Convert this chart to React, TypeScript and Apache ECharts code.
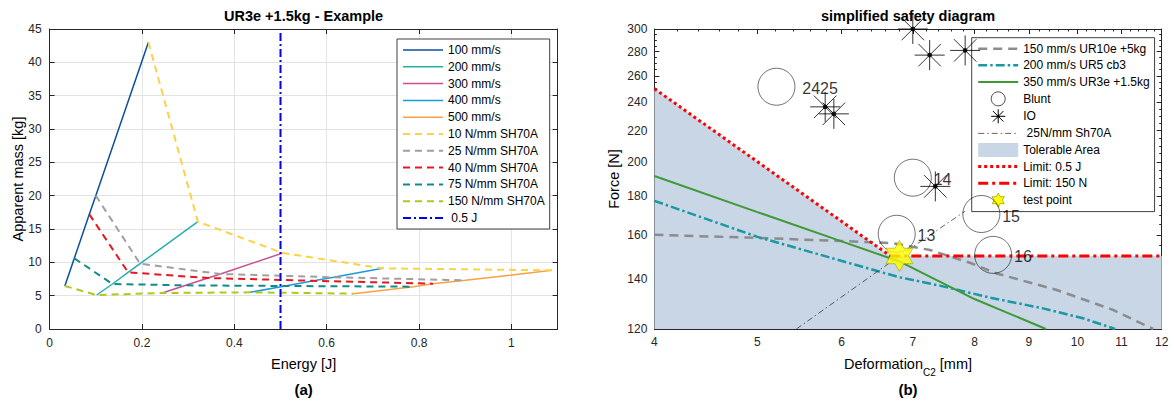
import React, { useEffect, useRef } from "react";
import * as echarts from "echarts";

const FONT = "'Liberation Sans', Arial, Helvetica, sans-serif";
const AXIS_COLOR = "#262626";
const GRID_COLOR = "#e3e3e3";
const AREA_COLOR = "#c8d6e6";

// ---------------- panel (a): apparent mass vs energy ----------------
// each speed array is ordered by stiffness: 150, 75, 40, 25, 10 N/mm
const speedNames = ["100 mm/s", "200 mm/s", "300 mm/s", "400 mm/s", "500 mm/s"];
const speedColors = ["#0b4f9e", "#25b0ad", "#c64f98", "#1b9ad8", "#f6a244"];
const stiffnessNames = ["150 N/mm SH70A", "75 N/mm SH70A", "40 N/mm SH70A", "25 N/mm SH70A", "10 N/mm SH70A"];
const stiffnessColors = ["#b3c71b", "#0e8c8c", "#e5171f", "#a0a0a0", "#fdd244"];
const energy100 = [0.033, 0.0535, 0.086, 0.1, 0.214];
const mass100 = [6.45, 10.6, 17.2, 20.0, 43.0];
const energy200 = [0.102, 0.136, 0.17, 0.196, 0.321];
const mass200 = [5.1, 6.75, 8.5, 9.8, 16.1];
const energy300 = [0.244, 0.295, 0.343, 0.37, 0.505];
const mass300 = [5.4, 6.55, 7.65, 8.25, 11.4];
const energy400 = [0.434, 0.51, 0.572, 0.615, 0.721];
const mass400 = [5.5, 6.45, 7.23, 7.76, 9.1];
const energy500 = [0.658, 0.788, 0.83, 0.9, 1.088];
const mass500 = [5.3, 6.35, 6.8, 7.3, 8.8];
const limitEnergy = 0.5;
const massRange = [0, 45];
const energyRange = [0, 1.1];

// ---------------- panel (b): simplified safety diagram ----------------
const ur10eDeform = [4, 5, 6, 6.7, 7.27, 7.92, 8.39, 9.56, 10.8, 11.78];
const ur10eForce = [160, 158.5, 157, 156, 152.7, 146.9, 142.2, 135.2, 127.2, 120];
const ur5Deform = [4, 5, 6.52, 6.81, 7.42, 8.27, 9.28, 10.12, 10.85];
const ur5Force = [177.5, 159, 142.9, 140.5, 137, 132.1, 127.8, 124, 120];
const ur3eDeform = [4, 5, 6, 6.8, 8, 9.34];
const ur3eForce = [191.5, 171.5, 156.8, 147.5, 131.5, 120];
const sh70aDeform = [5.44, 6.8, 7.84];
const sh70aForce = [120, 150, 172];
const bluntDeform = [5.21, 7.0, 6.76, 8.12, 8.33];
const bluntForce = [251.5, 190.5, 160.5, 170.5, 150.5];
const bluntLabels = ["2425", "14", "13", "15", "16"];
const ioDeform = [7.0, 7.26, 7.84, 5.79, 5.9, 7.35];
const ioForce = [300, 277, 281, 236.5, 231.5, 185.5];
const limitEnergyDeform = [4, 6.667];
const limitEnergyForce = [250, 150];
const limitForceDeform = [6.667, 12];
const limitForceForce = [150, 150];
const tolerableDeform = [4, 6.667, 12];
const tolerableForce = [250, 150, 150];
const testPointDeform = [6.8];
const testPointForce = [150];
const deformRange = [4, 12];
const forceRange = [120, 300];
const deformTicks = [4, 5, 6, 7, 8, 9, 10, 11, 12];
const forceTicks = [120, 140, 160, 180, 200, 220, 240, 260, 280, 300];

const deformMinorTicks: number[] = [];
for (let v = 40; v <= 120; v += 2) deformMinorTicks.push(v / 10);
const forceMinorTicks: number[] = [];
for (let v = 120; v <= 300; v += 5) forceMinorTicks.push(v);

const ASTERISK =
  "path://M0,-1L0,1M-1,0L1,0M-0.75,-0.75L0.75,0.75M-0.75,0.75L0.75,-0.75M0.13,0A0.13,0.13,0,1,1,-0.13,0A0.13,0.13,0,1,1,0.13,0Z";
const HEXAGRAM =
  "path://M0,-1L0.289,-0.5L0.866,-0.5L0.577,0L0.866,0.5L0.289,0.5L0,1L-0.289,0.5L-0.866,0.5L-0.577,0L-0.866,-0.5L-0.289,-0.5Z";

const zip = (xs: number[], ys: number[]) => xs.map((x, i) => [x, ys[i]]);

function buildOption() {
  const tickLabel = { color: AXIS_COLOR, fontSize: 12, fontFamily: FONT };

  const xAxes: any[] = [
    {
      gridIndex: 0, type: "value", position: "bottom", min: energyRange[0], max: energyRange[1], interval: 0.2,
      axisLine: { show: true, onZero: false, lineStyle: { color: AXIS_COLOR, width: 1 } },
      axisTick: { show: true, inside: true, length: 5, lineStyle: { color: AXIS_COLOR } },
      axisLabel: { show: true, showMaxLabel: false, margin: 8, ...tickLabel },
      splitLine: { show: true, lineStyle: { color: GRID_COLOR, width: 1 } },
    },
    {
      gridIndex: 0, type: "value", position: "top", min: energyRange[0], max: energyRange[1], interval: 0.2,
      axisLine: { show: true, onZero: false, lineStyle: { color: AXIS_COLOR, width: 1 } },
      axisTick: { show: true, inside: true, length: 5, lineStyle: { color: AXIS_COLOR } },
      axisLabel: { show: false },
      splitLine: { show: false },
    },
  ];
  const yAxes: any[] = [
    {
      gridIndex: 0, type: "value", position: "left", min: massRange[0], max: massRange[1], interval: 5,
      axisLine: { show: true, onZero: false, lineStyle: { color: AXIS_COLOR, width: 1 } },
      axisTick: { show: true, inside: true, length: 5, lineStyle: { color: AXIS_COLOR } },
      axisLabel: { show: true, margin: 8, ...tickLabel },
      splitLine: { show: true, lineStyle: { color: GRID_COLOR, width: 1 } },
    },
    {
      gridIndex: 0, type: "value", position: "right", min: massRange[0], max: massRange[1], interval: 5,
      axisLine: { show: true, onZero: false, lineStyle: { color: AXIS_COLOR, width: 1 } },
      axisTick: { show: true, inside: true, length: 5, lineStyle: { color: AXIS_COLOR } },
      axisLabel: { show: false },
      splitLine: { show: false },
    },
  ];

  const logAxis = (position: string, range: number[], ticks: number[], minor: boolean, labels: boolean) => ({
    gridIndex: 1, type: "log", logBase: 10, position, min: range[0], max: range[1],
    axisLine: { show: !minor, onZero: false, lineStyle: { color: AXIS_COLOR, width: 1 } },
    axisTick: { show: true, inside: true, length: minor ? 2.5 : 5, lineStyle: { color: AXIS_COLOR, width: 1 }, customValues: ticks },
    axisLabel: labels
      ? { show: true, customValues: ticks, margin: 7, ...tickLabel, formatter: (v: number) => String(Math.round(v)) }
      : { show: false },
    splitLine: { show: false },
    minorTick: { show: false },
    minorSplitLine: { show: false },
  });
  xAxes.push(logAxis("bottom", deformRange, deformTicks, false, true));
  xAxes.push(logAxis("bottom", deformRange, deformMinorTicks, true, false));
  xAxes.push(logAxis("top", deformRange, deformTicks, false, false));
  xAxes.push(logAxis("top", deformRange, deformMinorTicks, true, false));
  yAxes.push(logAxis("left", forceRange, forceTicks, false, true));
  yAxes.push(logAxis("left", forceRange, forceMinorTicks, true, false));
  yAxes.push(logAxis("right", forceRange, forceTicks, false, false));
  yAxes.push(logAxis("right", forceRange, forceMinorTicks, true, false));

  const speedEnergy = [energy100, energy200, energy300, energy400, energy500];
  const speedMass = [mass100, mass200, mass300, mass400, mass500];

  const series: any[] = [];
  speedNames.forEach((name, i) => {
    series.push({
      type: "line", name, xAxisIndex: 0, yAxisIndex: 0, symbol: "none", z: 3,
      data: zip(speedEnergy[i], speedMass[i]),
      lineStyle: { color: speedColors[i], width: 1.5 },
      itemStyle: { color: speedColors[i] },
    });
  });
  stiffnessNames.forEach((name, j) => {
    series.push({
      type: "line", name, xAxisIndex: 0, yAxisIndex: 0, symbol: "none", z: 3,
      data: speedEnergy.map((arr, i) => [arr[j], speedMass[i][j]]),
      lineStyle: { color: stiffnessColors[j], width: 2, type: [7, 5] },
      itemStyle: { color: stiffnessColors[j] },
    });
  });
  series.push({
    type: "line", name: " 0.5 J", xAxisIndex: 0, yAxisIndex: 0, symbol: "none", z: 4,
    data: [[limitEnergy, massRange[0]], [limitEnergy, massRange[1]]],
    lineStyle: { color: "#0000ff", width: 2, type: [8, 3, 2, 3] },
    itemStyle: { color: "#0000ff" },
  });

  const rb = { xAxisIndex: 2, yAxisIndex: 2 };
  series.push({
    type: "line", name: "Tolerable Area", ...rb, symbol: "none", z: 1,
    data: zip(tolerableDeform, tolerableForce),
    lineStyle: { width: 0, color: AREA_COLOR },
    itemStyle: { color: AREA_COLOR },
    areaStyle: { color: AREA_COLOR, opacity: 1, origin: "start" },
  });
  series.push({
    type: "line", name: "150 mm/s UR10e +5kg", ...rb, symbol: "none", z: 3,
    data: zip(ur10eDeform, ur10eForce),
    lineStyle: { color: "#8a8c8f", width: 2.5, type: [9, 6] },
    itemStyle: { color: "#8a8c8f" },
  });
  series.push({
    type: "line", name: "200 mm/s UR5 cb3", ...rb, symbol: "none", z: 3,
    data: zip(ur5Deform, ur5Force),
    lineStyle: { color: "#1c97a3", width: 2.5, type: [9, 3, 2.5, 3] },
    itemStyle: { color: "#1c97a3" },
  });
  series.push({
    type: "line", name: "350 mm/s UR3e +1.5kg", ...rb, symbol: "none", z: 3,
    data: zip(ur3eDeform, ur3eForce),
    lineStyle: { color: "#3f9a35", width: 2 },
    itemStyle: { color: "#3f9a35" },
  });
  series.push({
    type: "line", name: " 25N/mm Sh70A", ...rb, symbol: "none", z: 3,
    data: zip(sh70aDeform, sh70aForce),
    lineStyle: { color: "#222", width: 0.7, type: [6, 3, 1.5, 3] },
    itemStyle: { color: "#222" },
  });
  series.push({
    type: "line", name: "Limit: 0.5 J", ...rb, symbol: "none", z: 4,
    data: zip(limitEnergyDeform, limitEnergyForce),
    lineStyle: { color: "#ff0000", width: 3, type: [3, 3] },
    itemStyle: { color: "#ff0000" },
  });
  series.push({
    type: "line", name: "Limit: 150 N", ...rb, symbol: "none", z: 4,
    data: zip(limitForceDeform, limitForceForce),
    lineStyle: { color: "#ff0000", width: 3, type: [10, 4, 3, 4] },
    itemStyle: { color: "#ff0000" },
  });
  series.push({
    type: "scatter", name: "Blunt", ...rb, z: 5, clip: false,
    symbol: "circle", symbolSize: 37,
    itemStyle: { color: "rgba(0,0,0,0)", borderColor: "#000", borderWidth: 0.7 },
    label: { show: true, position: "right", distance: 2, offset: [0, 2], formatter: "{b}", fontSize: 16, color: "#000", fontFamily: FONT },
    data: bluntDeform.map((d, i) => ({
      name: bluntLabels[i],
      value: [d, bluntForce[i]],
      ...(i === 0 ? { label: { distance: 7 } } : {}),
    })),
  });
  series.push({
    type: "scatter", name: "IO", ...rb, z: 5, clip: false,
    symbol: ASTERISK, symbolSize: 30,
    itemStyle: { color: "#000", borderColor: "#000", borderWidth: 1 },
    data: zip(ioDeform, ioForce),
  });
  series.push({
    type: "scatter", name: "test point", ...rb, z: 6, clip: false,
    symbol: HEXAGRAM, symbolSize: [27, 31],
    itemStyle: { color: "#ffff00", borderColor: "#a3a300", borderWidth: 0.8 },
    data: zip(testPointDeform, testPointForce),
  });

  const legendCommon = {
    orient: "vertical",
    selectedMode: false,
    backgroundColor: "#fff",
    borderColor: "#404040",
    borderWidth: 1,
    borderRadius: 0,
    padding: [4, 5, 4, 5],
    itemWidth: 40,
    itemHeight: 14,
    lineStyle: { width: "inherit" },
    // hides the marker ECharts adds in the middle of line-series legend icons
    itemStyle: { borderWidth: "inherit", opacity: 0 },
    textStyle: { fontSize: 12, lineHeight: 14, color: "#000", fontFamily: FONT },
  };
  const shown = { itemStyle: { opacity: 1 } };

  const txt = (text: string, x: number, y: number, size: number, bold = false, rotation = 0, align = "center") => ({
    type: "text", x, y, rotation, z: 100,
    style: {
      text, fill: "#000", fontSize: size, fontFamily: FONT, fontWeight: bold ? "bold" : "normal",
      align, textAlign: align, verticalAlign: "middle", textVerticalAlign: "middle",
    },
  });

  return {
    animation: false,
    backgroundColor: "#fff",
    textStyle: { fontFamily: FONT },
    grid: [
      { left: 49.6, top: 29, width: 508, height: 300, containLabel: false, outerBoundsMode: "none" },
      { left: 654.4, top: 29, width: 507.3, height: 300, containLabel: false, outerBoundsMode: "none" },
    ],
    xAxis: xAxes,
    yAxis: yAxes,
    legend: [
      {
        ...legendCommon,
        left: 397, top: 39, itemGap: 2.8,
        data: [
          ...speedNames,
          "10 N/mm SH70A", "25 N/mm SH70A", "40 N/mm SH70A", "75 N/mm SH70A", "150 N/mm SH70A",
          " 0.5 J",
        ],
      },
      {
        ...legendCommon,
        left: 971.7, top: 37.7, itemGap: 2.6,
        data: [
          "150 mm/s UR10e +5kg",
          "200 mm/s UR5 cb3",
          "350 mm/s UR3e +1.5kg",
          { name: "Blunt", ...shown },
          { name: "IO", itemStyle: { opacity: 1 } },
          " 25N/mm Sh70A",
          { name: "Tolerable Area", icon: "rect", itemStyle: { color: AREA_COLOR, borderWidth: 0, opacity: 1 } },
          "Limit: 0.5 J",
          "Limit: 150 N",
          { name: "test point", itemStyle: { opacity: 1 } },
        ],
      },
    ],
    series,
    graphic: [
      txt("UR3e +1.5kg - Example", 303.6, 15.7, 14.5, true),
      txt("simplified safety diagram", 908, 15.7, 14.5, true),
      txt("Energy [J]", 303.6, 364, 14.5),
      txt("(a)", 303.6, 389.5, 15, true),
      txt("(b)", 908, 389.5, 15, true),
      txt("Apparent mass [kg]", 18, 179, 14.5, false, Math.PI / 2),
      txt("Force [N]", 613.5, 179, 14.5, false, Math.PI / 2),
      txt("Deformation", 844, 364, 14.5, false, 0, "left"),
      txt("C2", 923, 372.5, 10, false, 0, "left"),
      txt(" [mm]", 935.8, 364, 14.5, false, 0, "left"),
    ],
  };
}

export default function App() {
  const ref = useRef<HTMLDivElement>(null);
  useEffect(() => {
    if (!ref.current) return;
    const chart = echarts.init(ref.current, null, { renderer: "svg" });
    chart.setOption(buildOption() as any);
    return () => chart.dispose();
  }, []);
  return (
    <div
      ref={ref}
      style={{ position: "absolute", left: 0, top: 0, width: 1174, height: 401, background: "#fff" }}
    />
  );
}
